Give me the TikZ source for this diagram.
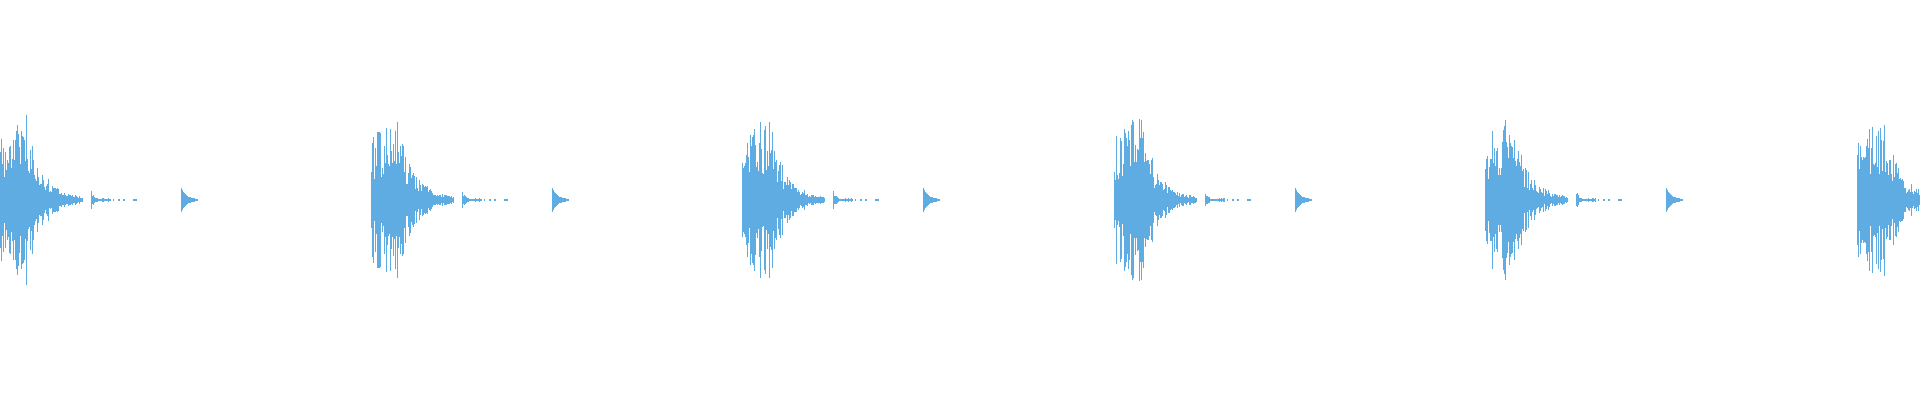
\documentclass[tikz,border=0pt]{standalone}
\definecolor{wave}{RGB}{94,172,226}
\begin{document}
\begin{tikzpicture}[x=1pt,y=-1pt,wl/.style={wave,line width=0.9pt}]
\useasboundingbox (0,0) rectangle (1920,400);
\pgfmathsetseed{11}
\foreach \xo in {0,371,742,1114,1485,1857}{
  \foreach \i in {0,...,82}{
    \pgfmathsetmacro{\e}{\i<26?(0.7+0.3*\i/26):exp(-(\i-26)/16)}
    \pgfmathsetmacro{\a}{1+88*\e*(0.3+0.7*rnd)}
    \draw[wl] (\xo+\i+0.5,200-\a) -- (\xo+\i+0.5,200+\a);
  }
  \foreach \i in {91,...,110}{
    \pgfmathsetmacro{\a}{0.6+(\i<100?10*exp(-(\i-91)/3)*(0.4+0.6*rnd):1.2*rnd)}
    \draw[wl] (\xo+\i+0.5,200-\a) -- (\xo+\i+0.5,200+\a);
  }
  \foreach \i in {113,118,119,123,124,133,134,135,136}{
    \draw[wl] (\xo+\i+0.5,199.3) -- (\xo+\i+0.5,200.7);
  }
  \foreach \i in {0,...,16}{
    \pgfmathsetmacro{\a}{0.7+11*exp(-\i/5)}
    \draw[wl] (\xo+181+\i+0.5,200-\a) -- (\xo+181+\i+0.5,200+\a);
  }
}
\end{tikzpicture}
\end{document}
